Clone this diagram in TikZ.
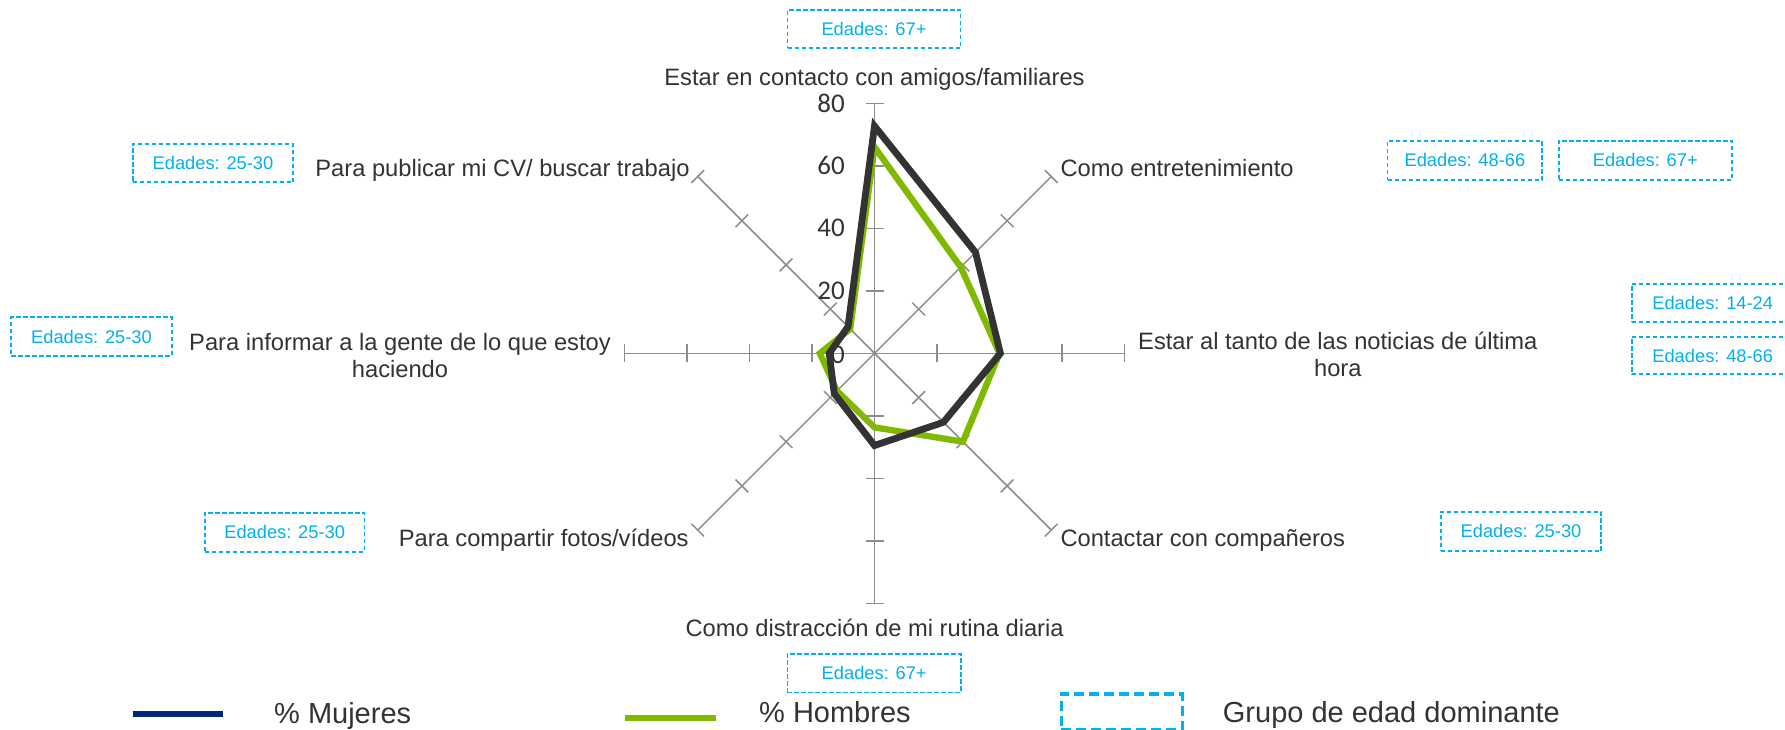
\documentclass[tikz,border=0pt]{standalone}
\usepackage{fontspec}
\setmainfont{Liberation Sans}
\newfontfamily\numfont{Carlito}
\usetikzlibrary{calc}
\definecolor{axisgray}{RGB}{140,140,140}
\definecolor{darkser}{RGB}{51,51,51}
\definecolor{greenser}{RGB}{127,186,0}
\definecolor{navyser}{RGB}{0,40,120}
\definecolor{agecyan}{RGB}{0,176,240}
\definecolor{txtgray}{RGB}{51,51,51}
\begin{document}
\begin{tikzpicture}[x=1pt,y=-1pt,
  catlabel/.style={font=\fontsize{23.7}{27.3}\selectfont, text=txtgray, inner sep=0pt},
  numlabel/.style={font=\numfont\fontsize{27}{30}\selectfont, text=txtgray, inner sep=0pt, anchor=east},
  agebox/.style={draw=agecyan, dash pattern=on 4.5pt off 2.5pt, line width=1.8pt, text=agecyan, font=\fontsize{18.3}{20}\selectfont, inner sep=0pt},
  legbox/.style={draw=agecyan, dash pattern=on 10pt off 5pt, line width=3.3pt, inner sep=0pt},
  legtext/.style={font=\fontsize{29}{33}\selectfont, text=txtgray, inner sep=0pt, anchor=base west},
  axisline/.style={draw=axisgray, line width=1.5pt},
  serdark/.style={draw=darkser, line width=6.8pt, line join=miter},
  sergreen/.style={draw=greenser, line width=6.3pt, line join=miter},
  swatch/.style={line width=5.8pt}
]
\useasboundingbox (0,0) rectangle (1785,730);
\fill[white] (0,0) rectangle (1785,730);
\clip (0,0) rectangle (1785,730);

% axes
\begin{scope}[shift={(874.5,353.3)}, yscale=-1]
  \foreach \a in {0,45,...,315}{
    \begin{scope}[rotate=\a]
      \draw[axisline] (0,0) -- (250,0);
      \foreach \r in {62.5,125,187.5,250} \draw[axisline] (\r,-9) -- (\r,9);
    \end{scope}
  }
\end{scope}

% axis values
\node[numlabel] (v80) at (845,103.3) {80};
\node[numlabel] (v60) at (845,165.8) {60};
\node[numlabel] (v40) at (845,228.3) {40};
\node[numlabel] (v20) at (845,290.8) {20};
\node[numlabel] (v0) at (845,355) {0};

% series
\begin{scope}[shift={(874.5,353.3)}, yscale=-1]
  \draw[sergreen] (90:206.25) -- (45:121.9) -- (0:125) -- (-45:125) -- (-90:74.1)
     -- (-135:53.1) -- (180:54.7) -- (135:34.4) -- cycle;
  \draw[serdark] (90:227.2) -- (45:142.8) -- (0:125.9) -- (-45:97.5) -- (-90:92.2)
     -- (-135:56.9) -- (180:45.3) -- (135:37.5) -- cycle;
\end{scope}

% category labels
\node[catlabel, anchor=base] (l1) at (874.5,86) {Estar en contacto con amigos/familiares};
\node[catlabel, anchor=base west] (l2) at (1060.3,176.7) {Como entretenimiento};
\node[catlabel, anchor=base, align=center] (l3) at (1337.8,376.3) {Estar al tanto de las noticias de última\\hora};
\node[catlabel, anchor=base west] (l4) at (1060.3,546.7) {Contactar con compañeros};
\node[catlabel, anchor=base] (l5) at (874.6,636.7) {Como distracción de mi rutina diaria};
\node[catlabel, anchor=base east] (l6) at (688.8,546.7) {Para compartir fotos/vídeos};
\node[catlabel, anchor=base, align=center] (l7) at (400,377.3) {Para informar a la gente de lo que estoy\\haciendo};
\node[catlabel, anchor=base east] (l8) at (689.7,176.7) {Para publicar mi CV/ buscar trabajo};

% age boxes
\node[agebox, minimum width=173, minimum height=38.3] (a1) at (874,29.2) {Edades: 67+};
\node[agebox, minimum width=173.5, minimum height=38.5] (a2) at (874.2,673.2) {Edades: 67+};
\node[agebox, minimum width=160.7, minimum height=38.3] (a3) at (213,163.2) {Edades: 25-30};
\node[agebox, minimum width=160.7, minimum height=38.4] (a4) at (91.5,336.5) {Edades: 25-30};
\node[agebox, minimum width=154.7, minimum height=39.3] (a5) at (1464.9,160.3) {Edades: 48-66};
\node[agebox, minimum width=173.4, minimum height=39.3] (a6) at (1645.3,160.3) {Edades: 67+};
\node[agebox, minimum width=162, minimum height=37.7] (a7) at (1712.7,302.8) {Edades: 14-24};
\node[agebox, minimum width=162, minimum height=37.6] (a8) at (1712.7,355.5) {Edades: 48-66};
\node[agebox, minimum width=160.7, minimum height=39.3] (a9) at (1521,531.3) {Edades: 25-30};
\node[agebox, minimum width=159.5, minimum height=39] (a10) at (284.7,532.2) {Edades: 25-30};

% legend
\coordinate (m1) at (133,713.8);
\coordinate (m2) at (223.3,713.8);
\draw[swatch, navyser] (m1) -- (m2);
\node[legtext] (lm) at (274,723.3) {\% Mujeres};
\coordinate (h1) at (625,718);
\coordinate (h2) at (716,718);
\draw[swatch, greenser] (h1) -- (h2);
\node[legtext] (lh) at (759,722.7) {\% Hombres};
\node[legbox, minimum width=121, minimum height=36] (lg) at (1121.7,712) {};
\node[legtext] (lgt) at (1222.7,722.7) {Grupo de edad dominante};
\end{tikzpicture}
\end{document}
